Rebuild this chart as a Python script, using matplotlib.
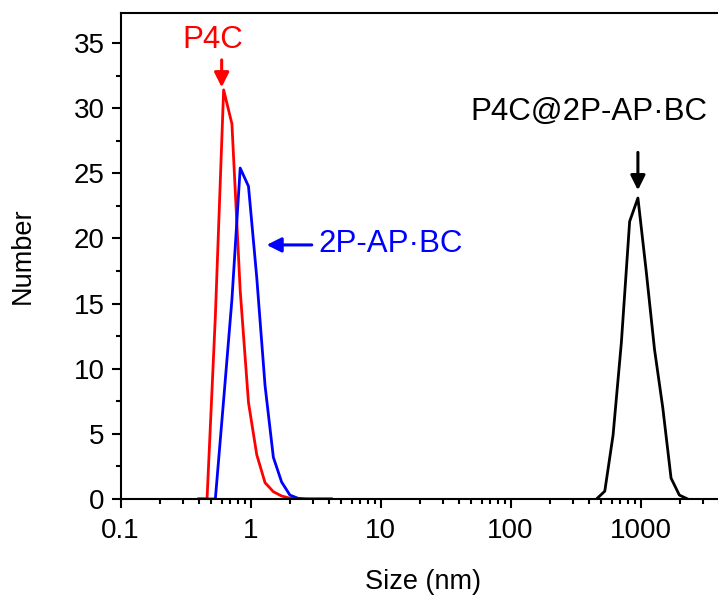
import matplotlib
matplotlib.use("Agg")
import matplotlib.pyplot as plt
from matplotlib.ticker import MultipleLocator, LogLocator, NullFormatter, FixedLocator, FixedFormatter

plt.rcParams['font.family'] = ['Liberation Sans', 'DejaVu Sans']

# size bins (nm) and number distributions
size_small = [0.4, 0.4632, 0.5365, 0.6213, 0.7195, 0.8332, 0.9649, 1.117, 1.294,
              1.499, 1.736, 2.01, 2.328, 2.696, 3.122, 3.615, 4.187]
p4c = [0, 0, 14.0, 31.4, 28.8, 16.0, 7.4, 3.4, 1.25, 0.56, 0.23, 0.06, 0, 0, 0, 0, 0]
bc = [0, 0, 0, 7.6, 15.3, 25.4, 24.0, 17.0, 8.7, 3.2, 1.3, 0.3, 0.05, 0, 0, 0, 0]

size_big = [458.7, 531.2, 615.1, 712.4, 825.0, 955.4, 1106, 1281, 1484, 1718, 1990, 2305]
p4c_bc = [0, 0.6, 4.9, 12.0, 21.3, 23.1, 17.5, 11.5, 7.0, 1.6, 0.3, 0]

xticks = [0.1, 1, 10, 100, 1000]
xlabels = ['0.1', '1', '10', '100', '1000']

fig = plt.figure(figsize=(7.18, 5.96), dpi=100)
# axes runs past the right edge, like the cropped original
ax = fig.add_axes([120.5 / 718, 97 / 596, 650 / 718, 486 / 596])

ax.plot(size_small, p4c, color='#ff0000', lw=2.0)
ax.plot(size_small, bc, color='#0000ff', lw=2.0)
ax.plot(size_big, p4c_bc, color='black', lw=2.0)

ax.set_xscale('log')
ax.set_xlim(0.1, 10000)
ax.set_ylim(0, 37.3)

ax.xaxis.set_major_locator(FixedLocator(xticks))
ax.xaxis.set_major_formatter(FixedFormatter(xlabels))
ax.xaxis.set_minor_locator(LogLocator(base=10, subs=range(2, 10), numticks=20))
ax.xaxis.set_minor_formatter(NullFormatter())
ax.yaxis.set_major_locator(MultipleLocator(5))
ax.yaxis.set_minor_locator(MultipleLocator(2.5))

for s in ax.spines.values():
    s.set_linewidth(1.5)
ax.spines['right'].set_visible(False)

ax.tick_params(which='major', direction='out', length=6.5, width=1.5, labelsize=20, pad=5)
ax.tick_params(axis='x', which='major', pad=7)
ax.tick_params(which='minor', direction='out', length=3.5, width=1.5)

ax.set_ylabel('Number', fontsize=19.5, labelpad=27)
ax.set_xlabel('Size (nm)', fontsize=19.5, labelpad=18)
ax.xaxis.label.set_x((423 - 120.5) / 650)

arrow = dict(arrowstyle='-|>', lw=2.2, mutation_scale=22, shrinkA=0, shrinkB=0)
ax.annotate('', xy=(0.60, 31.6), xytext=(0.60, 33.7),
            arrowprops=dict(arrow, color='#ff0000'))
ax.text(0.51, 35.2, 'P4C', color='#ff0000', fontsize=22.5, ha='center', va='center')

ax.annotate('', xy=(1.33, 19.5), xytext=(2.96, 19.5),
            arrowprops=dict(arrow, color='#0000ff'))
ax.text(3.3, 19.6, '2P-AP·BC', color='#0000ff', fontsize=22.5, ha='left', va='center')

ax.annotate('', xy=(955, 23.7), xytext=(955, 26.6),
            arrowprops=dict(arrow, color='black'))
ax.text(400, 29.7, 'P4C@2P-AP·BC', color='black', fontsize=22.5, ha='center', va='center')

fig.savefig('out.png', dpi=100)
